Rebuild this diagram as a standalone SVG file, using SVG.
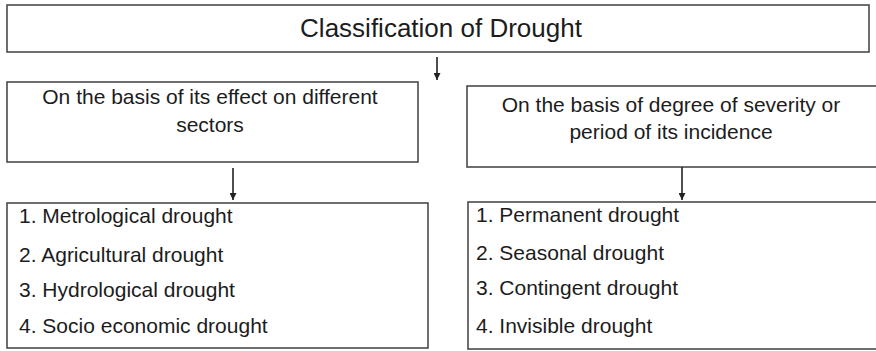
<svg xmlns="http://www.w3.org/2000/svg" width="876" height="351" viewBox="0 0 876 351">
<defs>
<style>
.box{fill:#ffffff;stroke:#4a4a4a;stroke-width:1.6}
.t{font-family:"Liberation Sans",Arial,sans-serif;fill:#1c1c1c;font-size:21px}
.c{text-anchor:middle}
.conn{stroke:#222;stroke-width:1.6;fill:none}
</style>
<marker id="ah" viewBox="0 0 10 10" refX="10" refY="5" markerWidth="7" markerHeight="7" markerUnits="userSpaceOnUse" orient="auto">
<path d="M0,0 L10,5 L0,10 z" fill="#222"/>
</marker>
</defs>
<rect width="876" height="351" fill="#ffffff"/>
<g id="root">
<rect class="box" x="7" y="5" width="862" height="47"/>
<text class="t c" x="441" y="37" style="font-size:26px">Classification of Drought</text>
</g>
<g id="effect">
<rect class="box" x="7" y="82" width="411" height="80"/>
<text class="t c" x="210" y="104">On the basis of its effect on different</text>
<text class="t c" x="210" y="132">sectors</text>
</g>
<g id="severity">
<rect class="box" x="467" y="86" width="420" height="81"/>
<text class="t c" x="671" y="112">On the basis of degree of severity or</text>
<text class="t c" x="671" y="139">period of its incidence</text>
</g>
<g id="effect-list">
<rect class="box" x="7" y="203" width="421" height="145"/>
<text class="t" x="19" y="223">1. Metrological drought</text>
<text class="t" x="19" y="262">2. Agricultural drought</text>
<text class="t" x="19" y="297">3. Hydrological drought</text>
<text class="t" x="19" y="333">4. Socio economic drought</text>
</g>
<g id="severity-list">
<rect class="box" x="468" y="202" width="420" height="147"/>
<text class="t" x="476" y="222">1. Permanent drought</text>
<text class="t" x="476" y="260">2. Seasonal drought</text>
<text class="t" x="476" y="295">3. Contingent drought</text>
<text class="t" x="476" y="333">4. Invisible drought</text>
</g>
<g id="connectors">
<line class="conn" x1="437" y1="57" x2="437" y2="80" marker-end="url(#ah)"/>
<line class="conn" x1="233" y1="168" x2="233" y2="200" marker-end="url(#ah)"/>
<line class="conn" x1="682" y1="167" x2="682" y2="200" marker-end="url(#ah)"/>
</g>
</svg>
